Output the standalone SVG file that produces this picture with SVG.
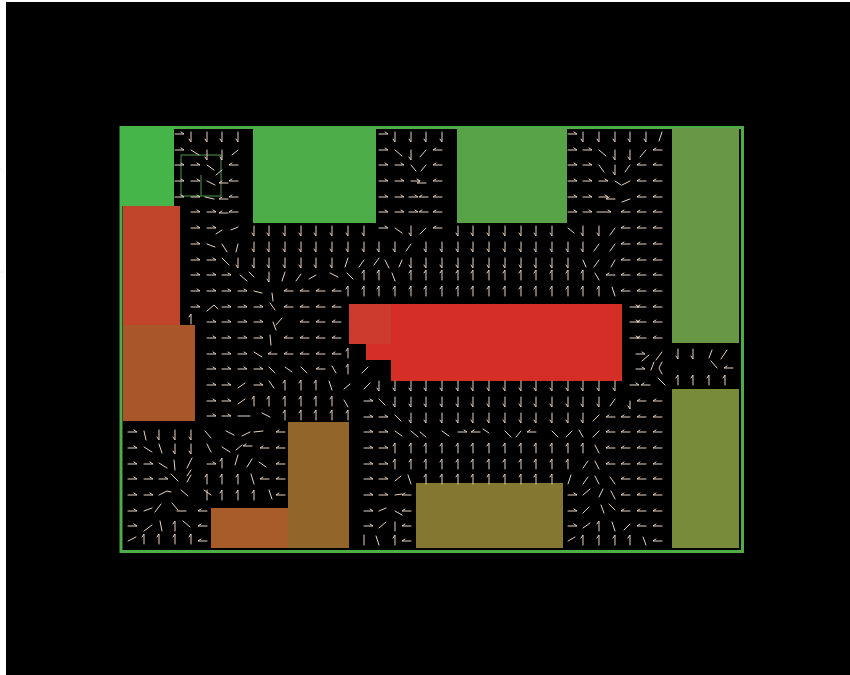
<svg xmlns="http://www.w3.org/2000/svg" width="850" height="675" viewBox="0 0 850 675">
<style>
.a{fill:none;stroke:#e6d2c0;stroke-width:1;stroke-linecap:round;stroke-linejoin:round}
</style>
<defs><filter id="b" x="-5%" y="-5%" width="110%" height="110%"><feGaussianBlur stdDeviation="0.6"/></filter><filter id="c" x="-5%" y="-5%" width="110%" height="110%"><feGaussianBlur stdDeviation="0.6"/></filter></defs>
<rect width="850" height="675" fill="#fff"/>
<path d="M0 168L5 173M0 272H5" stroke="#eee" fill="none"/>
<rect x="6" y="2" width="844" height="673" fill="#000"/>
<g id="field" filter="url(#c)">
<rect x="121" y="127.500" width="621.500" height="424" fill="#000" stroke="#50ad4a" stroke-width="3"/>
<rect id="a1" x="120" y="127" width="54" height="79" fill="#44b548"/>
<rect id="a2" x="123" y="206" width="57" height="119" fill="#c0442a"/>
<rect id="a3" x="123" y="325" width="72" height="96" fill="#a8572c"/>
<rect id="a4" x="253" y="128" width="123" height="95" fill="#4dad48"/>
<rect id="a5" x="457" y="128" width="110" height="95" fill="#58a346"/>
<rect id="a6" x="672" y="128" width="67" height="215" fill="#689744"/>
<rect id="a7" x="672" y="389" width="67" height="159" fill="#778b3a"/>
<path id="a8" d="M349 304H622V381H391V360H366V344H349Z" fill="#d42d28"/>
<path id="a9" d="M349 304H391V344H366V344H349Z" fill="#cc3a2e"/>
<rect id="a10" x="288" y="422" width="61" height="126" fill="#92662c"/>
<rect id="a11" x="211" y="508" width="77" height="40" fill="#a75c2a"/>
<rect id="a12" x="416" y="483" width="147" height="65" fill="#837732"/>
<path d="M181 155H221V196H181ZM201 175V196" fill="none" stroke="#4f9a4a"/>
</g>
<g id="arrows" class="a" filter="url(#b)">
<path d="M175 134h9l-3-2M191 132v10l-2-3M207 132v10l-2-3M222 132v10l-2-3M238 132v10l-2-3M379 134h9l-3-2M395 132v10l-2-3M411 132v10l-2-3M426 132v10l-2-3M442 132v10l-2-3M568 134h9l-3-2M583 132v10l-2-3M599 132v10l-2-3M615 132v10l-2-3M630 132v10l-2-3M646 132v10l-2-3M662 132l-3 9"/>
<path d="M175 150h9l-3-2M191 150l8 5M207 150v10l-2-3M222 150v10l-2-3M238 150l-6 5M379 150h9l-3-2M395 150l7 6M411 150v10l-2-3M426 150l-6 7M442 150h-9l3-2M568 150h9l-3-2M583 150h9l-3-2M599 150l7 6M615 150v10l-2-3M630 150v10l-2-3M646 150l-6 7M662 150h-9l3-2"/>
<path d="M175 165h9l-3-2M191 165h9l-3-2M207 165l7 5M222 170l-6 5M238 165h-9l3-2M379 165h9l-3-2M395 165h9l-3-2M411 165l5 6M426 165l-5 6M442 165h-9l3-2M568 165h9l-3-2M583 165h9l-3-2M599 165l5 7M615 165v10l-2-3M630 165l-5 7M646 165h-9l3-2M662 165h-9l3-2"/>
<path d="M175 181h9l-3-2M191 181h9l-3-2M207 181l8 4M228 183h-9l3-2M238 181h-9l3-2M379 181h9l-3-2M395 181h9l-3-2M411 181h9l-3-2M426 183h-9l3-2M442 181h-9l3-2M568 181h9l-3-2M583 181h9l-3-2M599 181h9l-3-2M615 181l6 4M630 181l-8 4M646 181h-9l3-2M662 181h-9l3-2"/>
<path d="M175 197h9l-3-2M191 197h9l-3-2M205 197l9 2M228 199h-9l3-2M238 197h-9l3-2M379 197h9l-3-2M395 197h9l-3-2M409 197h9l-3-2M428 197h-9l3-2M442 197h-9l3-2M568 197h9l-3-2M583 197h9l-3-2M599 197h9l-3-2M630 199l-8 3M615 199h-9l3-2M646 197h-9l3-2M662 197h-9l3-2"/>
<path d="M191 212h9l-3-2M207 212h9l-3-2M228 213h-9l3-2M238 212h-9l3-2M379 212h9l-3-2M395 212h9l-3-2M409 212h9l-3-2M428 212h-9l3-2M442 212h-9l3-2M568 212h9l-3-2M583 212h9l-3-2M597 212h14l-3-2M630 212h-9l3-2M646 212h-9l3-2M662 212h-9l3-2"/>
<path d="M191 228h9l-3-2M207 228h9l-3-2M222 230l-6 4M238 227l-7 3M254 226v10l-2-3M269 226v10l-2-3M285 226v10l-2-3M301 226v10l-2-3M316 226v10l-2-3M332 226v10l-2-3M348 226v10l-2-3M364 226v10l-2-3M379 228h9l-3-2M395 228l7 5M411 226v10l-2-3M426 228l-6 6M442 228h-9l3-2M458 226v10l-2-3M473 226v10l-2-3M489 226v10l-2-3M505 226v10l-2-3M521 226v10l-2-3M536 226v10l-2-3M552 226v10l-2-3M568 228l6 5M583 226v10l-2-3M599 226v10l-2-3M615 228l-5 7M630 228h-9l3-2M646 228h-9l3-2M662 228h-9l3-2"/>
<path d="M191 244h9l-3-2M207 244l8 3M222 244l5 8M238 244l-2 8M254 242v10l-2-3M269 242v10l-2-3M285 242v10l-2-3M301 242v10l-2-3M316 242v10l-2-3M332 242v10l-2-3M348 242v10l-2-3M364 242v10l-2-3M379 242v10l-2-3M395 242v10l-2-3M411 244l-5 7M426 242v10l-2-3M442 242v10l-2-3M458 242v10l-2-3M473 242v10l-2-3M489 242v10l-2-3M505 242v10l-2-3M521 242v10l-2-3M536 242v10l-2-3M552 242v10l-2-3M568 242v10l-2-3M583 242v10l-2-3M599 244l-5 7M615 244l-5 7M630 244h-9l3-2M646 244h-9l3-2M662 244h-9l3-2"/>
<path d="M191 260h9l-3-2M207 260h9l-3-2M222 258l7 7M238 258v10l-2-3M254 258v10l-2-3M269 258v10l-2-3M285 258v10l-2-3M301 258v10l-2-3M316 258v10l-2-3M332 258v10l-2-3M348 258l-3 9M364 260l-5 7M379 258l-5 7M385 260l4 8M402 260l-3 7M411 258v10l-2-3M426 258v10l-2-3M442 258v10l-2-3M458 258v10l-2-3M473 258v10l-2-3M489 258v10l-2-3M505 258v10l-2-3M521 258v10l-2-3M536 258v10l-2-3M552 258v10l-2-3M568 258v10l-2-3M583 260l3 7M599 260l-5 7M615 260l-4 7M630 260h-9l3-2M646 260h-9l3-2M662 260h-9l3-2"/>
<path d="M191 275h9l-3-2M207 275h9l-3-2M222 275h9l-3-2M240 275l7 6M254 277l-5-5M269 272v10l-2-3M285 272l-3 9M301 274l-5 7M316 275l-7 4M330 273l8 4M347 273l6 6M364 280v-10l-2 3M379 280v-10l-2 3M395 281l-3-8M411 280v-10l-2 3M426 280v-10l-2 3M442 280v-10l-2 3M458 280v-10l-2 3M473 280v-10l-2 3M489 280v-10l-2 3M505 280v-10l-2 3M521 280v-10l-2 3M536 280v-10l-2 3M552 280v-10l-2 3M568 280v-10l-2 3M583 280v-10l-2 3M599 280l-4-7M615 275h-9l3-2M630 275h-9l3-2M646 275h-9l3-2M662 275h-9l3-2"/>
<path d="M191 291h9l-3-2M207 291h9l-3-2M222 291h9l-3-2M238 291h9l-3-2M254 291l8 2M272 293l1 8M293 291h-9l3-2M309 291h-9l3-2M325 291h-9l3-2M341 291h-9l3-2M348 296v-10l-2 3M364 296v-10l-2 3M379 296v-10l-2 3M395 296v-10l-2 3M411 296v-10l-2 3M426 296v-10l-2 3M442 296v-10l-2 3M458 296v-10l-2 3M473 296v-10l-2 3M489 296v-10l-2 3M505 296v-10l-2 3M521 296v-10l-2 3M536 296v-10l-2 3M552 296v-10l-2 3M568 296v-10l-2 3M583 296v-10l-2 3M599 296v-10l-2 3M615 296l-3-9M630 291h-9l3-2M646 291h-9l3-2M662 291h-9l3-2"/>
<path d="M191 307h9l-3-2M207 311l7-6 4 4M222 307h9l-3-2M238 307h9l-3-2M254 307h9l-3-2M270 303l5 7M293 307h-9l3-2M309 307h-9l3-2M325 307h-9l3-2M341 307h-9l3-2M630 307h9l-3-2M646 307h-9l3-2M662 307h-9l3-2"/>
<path d="M191 324v-10l-2 3M207 322h9l-3-2M222 322h9l-3-2M238 322h9l-3-2M254 322h9l-3-2M273 322l3 8M282 318l-6 7M309 322h-9l3-2M325 322h-9l3-2M341 322h-9l3-2M630 322h9l-3-2M646 322h-9l3-2M662 322h-9l3-2"/>
<path d="M207 338h9l-3-2M222 338h9l-3-2M238 338h9l-3-2M254 338h9l-3-2M270 335l1 10M293 338h-9l3-2M309 338h-9l3-2M325 338h-9l3-2M341 338h-9l3-2M630 338h9l-3-2M646 338h-9l3-2M662 338h-9l3-2"/>
<path d="M207 354h9l-3-2M222 354h9l-3-2M238 354h9l-3-2M254 352l8 5M277 354h-9l3-2M293 354h-9l3-2M309 354h-9l3-2M325 354h-9l3-2M341 354h-9l3-2M348 358v-10l-2 3M636 354h9l-3-2M642 361l7-6M662 352l-6 8M678 349v10l-2-3M693 349v10l-2-3M712 350l-3 8M727 350l-6 9"/>
<path d="M207 369h9l-3-2M222 369h9l-3-2M238 369h9l-3-2M254 369h9l-3-2M269 367l6 6M292 372l-7-5M307 373l-6-6M325 369h-9l3-2M336 373l-4-7M348 374v-10l-2 3M362 373l6-6M636 369h9l-3-2M654 362l-3 8M662 362l-3 6 3 6M711 361l6 7M733 368h-9l3-2"/>
<path d="M207 385h9l-3-2M222 385h9l-3-2M238 388l7-5M254 385h9l-3-2M274 388l-5-7M285 390v-10l-2 3M301 390v-10l-2 3M316 390v-10l-2 3M332 390l-3-9M350 384l-6 5M364 389l6-6M379 381v10l-2-3M395 381v10l-2-3M411 381v10l-2-3M426 381v10l-2-3M442 381v10l-2-3M458 381v10l-2-3M473 381v10l-2-3M489 381v10l-2-3M505 381v10l-2-3M521 381v10l-2-3M536 381v10l-2-3M552 381v10l-2-3M568 381v10l-2-3M583 381v10l-2-3M599 381v10l-2-3M615 381v10l-2-3M630 385h9l-3-2M650 385h-9l3-2M658 378l7 7M678 385v-10l-2 3M693 385v-10l-2 3M709 385v-10l-2 3M725 385v-10l-2 3"/>
<path d="M207 401h9l-3-2M222 401h9l-3-2M238 404l7-5M254 406v-10l-2 3M269 406v-10l-2 3M285 406v-10l-2 3M301 406v-10l-2 3M316 406v-10l-2 3M332 406v-10l-2 3M344 400l4 7M364 401h9l-3-2M379 399l6 6M395 397v10l-2-3M411 397v10l-2-3M426 397v10l-2-3M442 397v10l-2-3M458 397v10l-2-3M473 397v10l-2-3M489 397v10l-2-3M505 397v10l-2-3M521 397v10l-2-3M536 397v10l-2-3M552 397v10l-2-3M568 397v10l-2-3M583 397v10l-2-3M599 397v10l-2-3M615 399l-5 7M630 401v8l-2-3M646 401h-9l3-2M662 401h-9l3-2"/>
<path d="M207 416h9l-3-2M222 416h9l-3-2M238 416h12M262 413l8 4M285 420v-10l-2 3M301 420v-10l-2 3M316 420v-10l-2 3M332 420v-10l-2 3M348 420v-10l-2 3M364 417h9l-3-2M379 417h9l-3-2M395 415l6 6M411 413v10l-2-3M426 413v10l-2-3M442 413v10l-2-3M458 413v10l-2-3M473 413v10l-2-3M489 413v10l-2-3M505 413v10l-2-3M521 413v10l-2-3M536 413v10l-2-3M552 413v10l-2-3M568 413v10l-2-3M583 413v10l-2-3M599 415l-6 6M615 417h-9l3-2M630 417h-9l3-2M646 417h-9l3-2M662 417h-9l3-2"/>
<path d="M128 432h9l-3-2M144 431l2 9M159 430v10l-2-3M175 430v10l-2-3M191 430v10l-2-3M205 431l6 7M226 431l8 4M250 432l-8 4M263 431l-9 1M285 432h-9l3-2M364 432h9l-3-2M379 432h9l-3-2M395 431l7 5M411 431l7 6M426 437l-6-5M442 431l7 5M458 432h9l-3-2M480 432h-9l3-2M489 433l-6-4M505 431l6 6M521 431l-5 6M536 432h-9l3-2M552 431l6 6M572 431l-6 6M583 437l-4-7M599 431l-6 6M615 432h-9l3-2M630 432h-9l3-2M646 432h-9l3-2M662 432h-9l3-2"/>
<path d="M128 448h9l-3-2M144 447l8 5M159 444l3 9M175 444v10l-2-3M191 444v10l-2-3M207 444l4 8M222 447l8 5M236 450l6-5M252 446h-9l3-2M269 448h-9l3-2M285 448h-9l3-2M364 448h9l-3-2M379 448h9l-3-2M395 453v-10l-2 3M411 453v-10l-2 3M426 453v-10l-2 3M442 453v-10l-2 3M458 453v-10l-2 3M473 453v-10l-2 3M489 453v-10l-2 3M505 453v-10l-2 3M521 453v-10l-2 3M536 453v-10l-2 3M552 453v-10l-2 3M568 453v-10l-2 3M583 453v-10l-2 3M599 453l-4-8M615 448h-9l3-2M630 448h-9l3-2M646 448h-9l3-2M662 448h-9l3-2"/>
<path d="M128 464h9l-3-2M144 464h9l-3-2M159 463l8 5M175 470l-1-10M191 470l-4 6M192 458l-5 10M207 464h9l-3-2M222 468v-10l-2 3M235 465l3-10M247 467l5-8M266 467l-7-5M285 464h-9l3-2M364 464h9l-3-2M379 464h9l-3-2M395 469v-10l-2 3M411 469v-10l-2 3M426 469v-10l-2 3M442 469v-10l-2 3M458 469v-10l-2 3M473 469v-10l-2 3M489 469v-10l-2 3M505 469v-10l-2 3M521 469v-10l-2 3M536 469v-10l-2 3M552 469v-10l-2 3M568 469v-10l-2 3M583 468l5-7M599 469l-4-8M615 464h-9l3-2M630 464h-9l3-2M646 464h-9l3-2M662 464h-9l3-2"/>
<path d="M128 479h9l-3-2M144 479h9l-3-2M159 479h9l-3-2M171 474l7 7M191 475l-4 7M207 484v-10l-2 3M222 484v-10l-2 3M238 484v-10l-2 3M254 484l-3-10M269 479h-9l3-2M285 479h-9l3-2M364 479h9l-3-2M379 479h9l-3-2M395 481l6-5M411 484l-3-9M426 484v-10l-2 3M442 484v-10l-2 3M458 484v-10l-2 3M473 484v-10l-2 3M489 484v-10l-2 3M505 484v-10l-2 3M521 484v-10l-2 3M536 484v-10l-2 3M552 484v-10l-2 3M568 484l3-9M583 484l5-7M599 484l-4-8M615 484l-5-7M630 479h-9l3-2M646 479h-9l3-2M662 479h-9l3-2"/>
<path d="M128 495h9l-3-2M144 495h9l-3-2M159 495l8-4 4 1M181 490l7 6M204 490l7 5M207 500l0-10M222 500v-10l-2 3M238 500v-10l-2 3M254 500v-10l-2 3M269 490l3 9M285 495h-9l3-2M364 495h9l-3-2M379 495h9l-3-2M395 495l7-1M411 495h-9l3-2M568 495h9l-3-2M583 495l7-6M599 497l4-8M615 499l-4-8M630 495h-9l3-2M646 495h-9l3-2M662 495h-9l3-2"/>
<path d="M128 511h9l-3-2M144 511l8-3M161 504l-6 8M172 503l6 7M186 511h-9M207 511h-9l3-2M364 511h9l-3-2M379 511l7-3M395 511l7 4M411 511h-9l3-2M568 511h9l-3-2M583 513l6-6M601 505l3 8M615 510l-6-6M630 511h-9l3-2M646 511h-9l3-2M662 511h-9l3-2"/>
<path d="M128 526h9l-3-2M144 531l8-6M162 531l-2-10M175 531v-10l-2 3M183 521l7 6M207 526h-9l3-2M364 526h9l-3-2M379 528l7-6M395 531l0-9M411 526h-9l3-2M568 526h9l-3-2M583 528l7-5M599 531v-10l-2 3M615 531l-3-9M630 524l-6 6M646 526h-9l3-2M662 526h-9l3-2"/>
<path d="M128 541l8-4M144 544v-10l-2 3M159 544v-10l-2 3M175 544v-10l-2 3M191 544v-10l-2 3M207 541h-9l3-2M364 545l0-10M379 545l-3-9M395 545v-10l-2 3M411 541h-9l3-2M568 541l7-4M583 545v-10l-2 3M599 545v-10l-2 3M615 545v-10l-2 3M630 545v-10l-2 3M646 545l-3-8M662 541h-9l3-2"/>
</g>
</svg>
